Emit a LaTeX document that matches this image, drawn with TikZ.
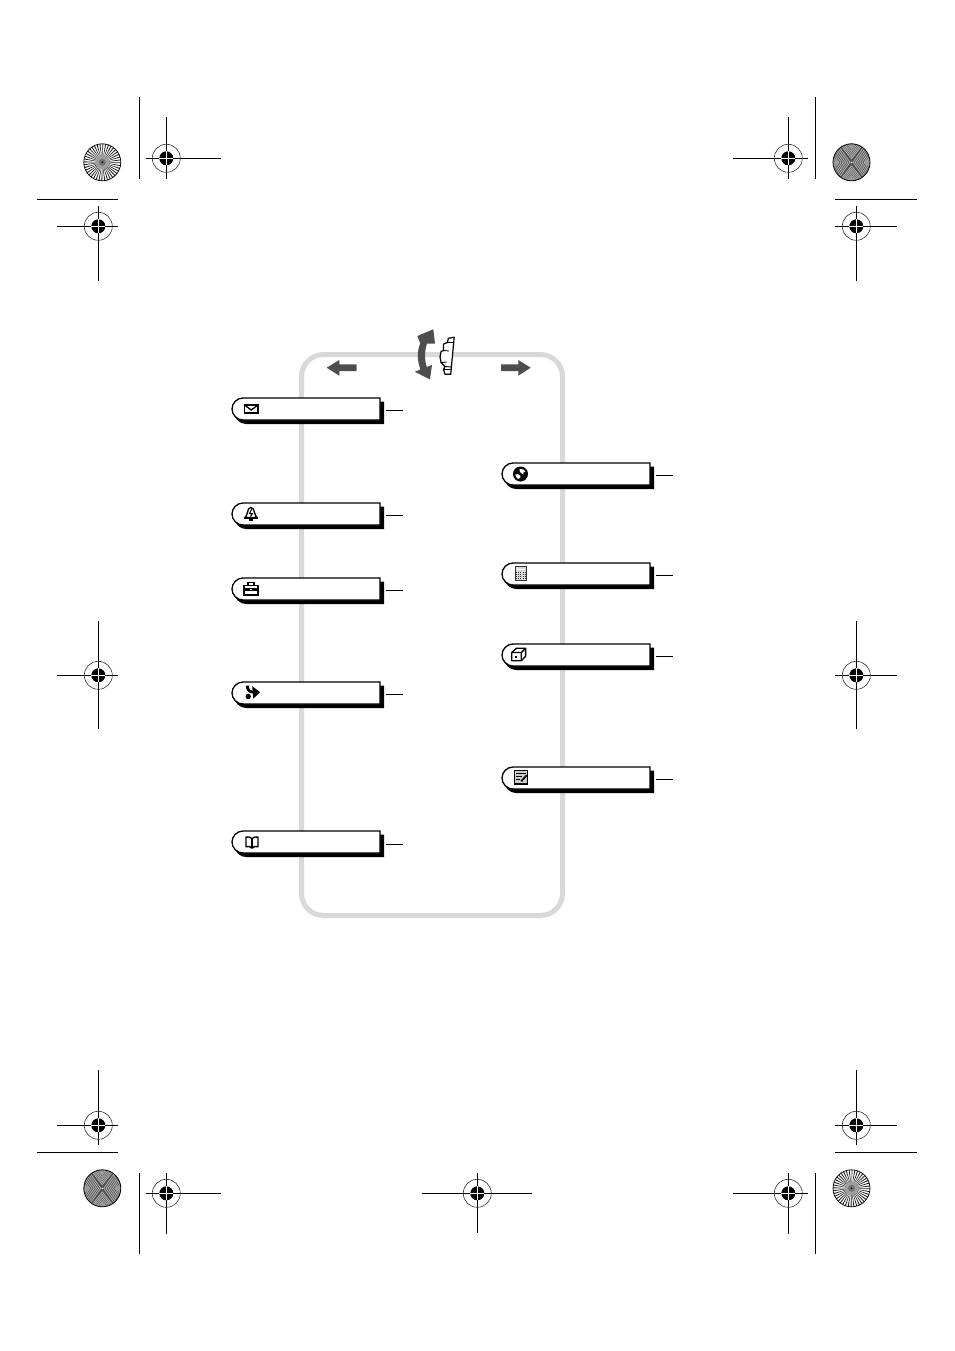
\documentclass[tikz,border=0pt]{standalone}
\usetikzlibrary{calc}
\definecolor{framegray}{HTML}{D9D9D9}
\definecolor{arrowgray}{HTML}{4D4D4D}
\tikzset{
  x=1pt,y=-1pt,
  cropline/.style={line width=1.2pt,black},
  regring/.style={line width=0.6pt,black!80},
  iconline/.style={line width=1.35pt,black,line join=miter},
  tickline/.style={line width=1pt,black},
  pillhit/.style={inner sep=0pt,minimum width=148pt,minimum height=22pt,draw=none},
  bigarrow/.style={fill=arrowgray,draw=none}
}
% registration mark: cx cy x0 x1 y0 y1
\newcommand{\regmark}[6]{%
  \draw[cropline] (#3,#2) -- (#4,#2);
  \draw[cropline] (#1,#5) -- (#1,#6);
  \draw[regring] (#1,#2) circle[radius=14pt];
  \fill[black] (#1,#2) circle[radius=7pt];
  \draw[white,line width=1.1pt] (#1-7,#2) -- (#1+7,#2) (#1,#2-7) -- (#1,#2+7);
}
% radial star
\newcommand{\starburst}[2]{%
  \begin{scope}[shift={(#1,#2)}]
    \fill[white] (0,0) circle[radius=18.5pt];
    \foreach \a in {0,9,...,351}{
      \fill[black!90] (0,0) -- ({18.5*cos(\a)},{18.5*sin(\a)}) -- ({18.5*cos(\a+3)},{18.5*sin(\a+3)}) -- cycle;
    }
    \fill[black!38] (0,0) circle[radius=7pt];
    \fill[black!55] (0,0) circle[radius=3.5pt];
    \fill[black] (0,0) circle[radius=1pt];
    \draw[black,line width=0.7pt] (0,0) circle[radius=18.5pt];
  \end{scope}}
% moire star
\newcommand{\moirestar}[2]{%
  \begin{scope}[shift={(#1,#2)}]
    \begin{scope}
      \clip (0,0) circle[radius=18.5pt];
      \fill[black!68] (-20,-20) rectangle (20,20);
      \foreach \d in {1.5,3.7,...,24}{
        \draw[black!30,line width=0.8pt] (\d+12,-17) -- (\d,0) -- (\d+12,17);
        \draw[black!30,line width=0.8pt] (-\d-12,-17) -- (-\d,0) -- (-\d-12,17);
        \draw[black!30,line width=0.8pt] (-12,-\d-17) -- (0,-\d*1.1-2) -- (12,-\d-17);
        \draw[black!30,line width=0.8pt] (-12,\d+17) -- (0,\d*1.1+2) -- (12,\d+17);
      }
      \draw[black!70,line width=0.6pt] (-14,-20) -- (14,20) (14,-20) -- (-14,20);
      \fill[black!40] (0,-17) circle[radius=3pt] (0,17) circle[radius=3pt]
                      (-16,0) circle[radius=3pt] (16,0) circle[radius=3pt];
      \fill[white] (0,0) circle[radius=0.8pt];
    \end{scope}
    \draw[black,line width=0.8pt] (0,0) circle[radius=18.5pt];
  \end{scope}}
% menu pill: name, x, y, tick y offset
\newcommand{\pill}[4]{%
  \begin{scope}[shift={(#2,#3)}]
    \fill[black] (14,4) .. controls (8,4) and (2.5,9) .. (2.5,15)
       .. controls (2.5,21) and (8,26) .. (14,26) -- (152,26) -- (152,3.5) -- cycle;
    \filldraw[fill=white,draw=black,line width=1.3pt] (11,0) .. controls (5,0) and (0,5) .. (0,11)
       .. controls (0,17) and (5,22) .. (11,22) -- (148,22) -- (148,0) -- cycle;
    \node[pillhit] (#1) at (74,11) {};
    \coordinate (#1-a) at (154,#4);
    \coordinate (#1-b) at (171,#4);
    \draw[tickline] (#1-a) -- (#1-b);
  \end{scope}}
\begin{document}
\begin{tikzpicture}[line cap=butt]
\useasboundingbox (0,0) rectangle (954,1351);
\fill[white] (0,0) rectangle (954,1351);

% crop lines
\draw[cropline] (139.3,97) -- (139.3,179);
\draw[cropline] (815.3,97) -- (815.3,179);
\draw[cropline] (139.3,1173) -- (139.3,1254);
\draw[cropline] (815.3,1173) -- (815.3,1254);
\draw[cropline] (37,199.3) -- (118,199.3);
\draw[cropline] (835,199.3) -- (917,199.3);
\draw[cropline] (37,1152.3) -- (118,1152.3);
\draw[cropline] (835,1152.3) -- (917,1152.3);

\regmark{166.3}{158.3}{146}{221}{117}{179}
\regmark{788.3}{158.3}{733}{808}{117}{179}
\regmark{98.3}{226.3}{57}{118}{206}{281}
\regmark{856.3}{226.3}{835}{897}{206}{281}
\regmark{98.3}{675.3}{57}{118}{621}{729}
\regmark{856.3}{675.3}{835}{897}{621}{729}
\regmark{98.3}{1125.3}{57}{118}{1070}{1145}
\regmark{856.3}{1125.3}{835}{897}{1070}{1145}
\regmark{166.3}{1193.3}{146}{221}{1173}{1234}
\regmark{788.3}{1193.3}{733}{808}{1173}{1234}
\regmark{477.3}{1193.3}{422}{532}{1173}{1233}

\starburst{102.3}{162.3}
\starburst{851.5}{1188.3}
\moirestar{851.5}{162.3}
\moirestar{102.3}{1188.3}

% grey frame
\draw[framegray,line width=5pt,rounded corners=22pt] (301.5,354.5) rectangle (562.5,915.5);

% side arrows
\fill[bigarrow] (326.7,367.7) -- (339.3,360) -- (339.3,364.3) -- (356.7,364.3) -- (356.7,371) -- (339.3,371) -- (339.3,375.7) -- cycle;
\fill[bigarrow] (530.7,367.7) -- (518.3,360) -- (518.3,364.3) -- (501,364.3) -- (501,371) -- (518.3,371) -- (518.3,375.7) -- cycle;

% curved double arrow
\fill[bigarrow] (433.3,329.3) -- (417.3,336) -- (420.3,343.5)
  .. controls (417,350) and (417,361) .. (420.5,369.5)
  -- (414.8,371.7) -- (430,379.5) -- (432,365) -- (426.8,367)
  .. controls (424.5,360) and (424.5,351) .. (427,343.5)
  -- (435,343.5) -- cycle;

% thumb wheel
\filldraw[fill=white,draw=black,line width=1.2pt,line join=round]
  (448.3,338.3) -- (454.2,337.2) -- (450.7,374.2) -- (445,374.2) -- (443.5,369.5)
  -- (445,366.5) -- (441,362.5) -- (440,357) -- (441,351.5) -- (443.5,350.5) -- (443.5,344)
  -- (447.5,342.5) -- cycle;
\draw[black,line width=0.9pt] (447.5,342.5) -- (452.8,342.5) (443.5,350.5) -- (449,351) (441,362.5) -- (446.5,362) (445,366.5) -- (451,367) (443.5,369.5) -- (450.7,369.5);

% menu pills
\pill{mail}{232}{398}{12.8}
\pill{bell}{232}{503}{12.2}
\pill{tools}{232}{578}{12.2}
\pill{fax}{232}{682}{12.2}
\pill{book}{232}{831}{13}
\pill{web}{502}{463}{12.2}
\pill{calc}{502}{563}{12.2}
\pill{box}{502}{644}{12.2}
\pill{memo}{502}{767}{12.2}

% envelope
\begin{scope}[shift={(244.5,405)}]
  \draw[iconline] (0,0) rectangle (13.5,8);
  \draw[iconline] (0,0) -- (6.75,5) -- (13.5,0);
\end{scope}
% bell
\begin{scope}[shift={(244,506.5)}]
  \draw[iconline,fill=white] (1,11) .. controls (3.5,9) and (3,5) .. (4.5,2.5) .. controls (5.5,0.5) and (8,0.5) .. (9.3,2.5) .. controls (11,5) and (10.5,9) .. (13,11) -- cycle;
  \draw[iconline] (0,12) -- (14,12);
  \draw[black,line width=1pt] (7.8,2.5) -- (5.5,7) -- (8.5,7) -- (6.5,10);
  \fill[black] (5,12.5) rectangle (9,14.5);
\end{scope}
% briefcase
\begin{scope}[shift={(244,582)}]
  \draw[iconline] (0,3.5) rectangle (14,13);
  \draw[iconline] (4,3.5) -- (4,0.8) -- (10,0.8) -- (10,3.5);
  \fill[black] (0,6.2) rectangle (14,9);
  \fill[white] (5.9,6.8) rectangle (8.1,8.4);
\end{scope}
% fax / transfer arrow
\begin{scope}[shift={(245.7,685.7)}]
  \draw[black,line width=2.8pt] (1.5,0) .. controls (1.5,4) and (4,6.5) .. (8,6.5);
  \fill[black] (6.5,0.5) -- (14.3,6.5) -- (7.5,13) -- cycle;
  \fill[black] (2.5,10.8) circle[radius=2.7pt];
\end{scope}
% book
\begin{scope}[shift={(245,836.7)}]
  \draw[iconline,fill=white] (7,1.8) .. controls (5,0) and (3,0) .. (1,0.5) -- (1,10) .. controls (3,9.5) and (5,9.5) .. (7,11.3)
     .. controls (9,9.5) and (11,9.5) .. (13,10) -- (13,0.5) .. controls (11,0) and (9,0) .. (7,1.8) -- cycle;
  \draw[iconline] (7,1.8) -- (7,11.3);
\end{scope}
% globe
\begin{scope}[shift={(520.5,474)}]
  \fill[black] (0,0) circle[radius=7.5pt];
  \fill[white] (-1,-5) .. controls (2,-5.8) and (4.5,-4) .. (5,-2) .. controls (3,-3) and (2,-1) .. (3,0.5) .. controls (1,0.5) and (0,-2) .. (-1,-3) -- cycle;
  \fill[white] (-5.2,0.5) .. controls (-4,-0.5) and (-1,0) .. (0,2) .. controls (0.5,3.5) and (-1,5) .. (-2.5,4.8) .. controls (-4,4) and (-5,2.5) .. (-5.2,0.5) -- cycle;
\end{scope}
% calculator
\begin{scope}[shift={(515,566.7)}]
  \draw[line width=1pt,black!80,fill=black!15] (0,0) rectangle (11.7,13.3);
  \fill[white] (1.8,1.8) rectangle (9.9,3.6);
  \foreach \ty in {5.2,7.4,9.6,11.6}{
    \foreach \tx in {1.6,3.7,5.85,8,10.1}{
      \fill[black!80] (\tx-0.4,\ty-0.4) rectangle (\tx+0.4,\ty+0.4);
    }
  }
\end{scope}
% box
\begin{scope}[shift={(511.8,648.3)}]
  \draw[iconline,line join=round] (0,4.2) -- (4.5,0) -- (13.8,0) -- (13.8,8) -- (9.5,12.4) -- (0,12.4) -- cycle;
  \draw[iconline,line join=round] (0,4.2) -- (9.5,4.2) -- (13.8,0) (9.5,4.2) -- (9.5,12.4);
  \fill[black] (3.5,7.8) rectangle (5.5,9.3);
\end{scope}
% memo
\begin{scope}[shift={(514.3,770.7)}]
  \draw[black,line width=1.4pt,fill=black!20] (0,0) rectangle (13.3,13.3);
  \draw[black,line width=1.2pt] (2,3) -- (11.3,3) (2,6) -- (8,6) (2,9) -- (6,9);
  \draw[black,line width=1.8pt] (12.5,4.5) -- (7,10.5);
\end{scope}
\end{tikzpicture}
\end{document}
